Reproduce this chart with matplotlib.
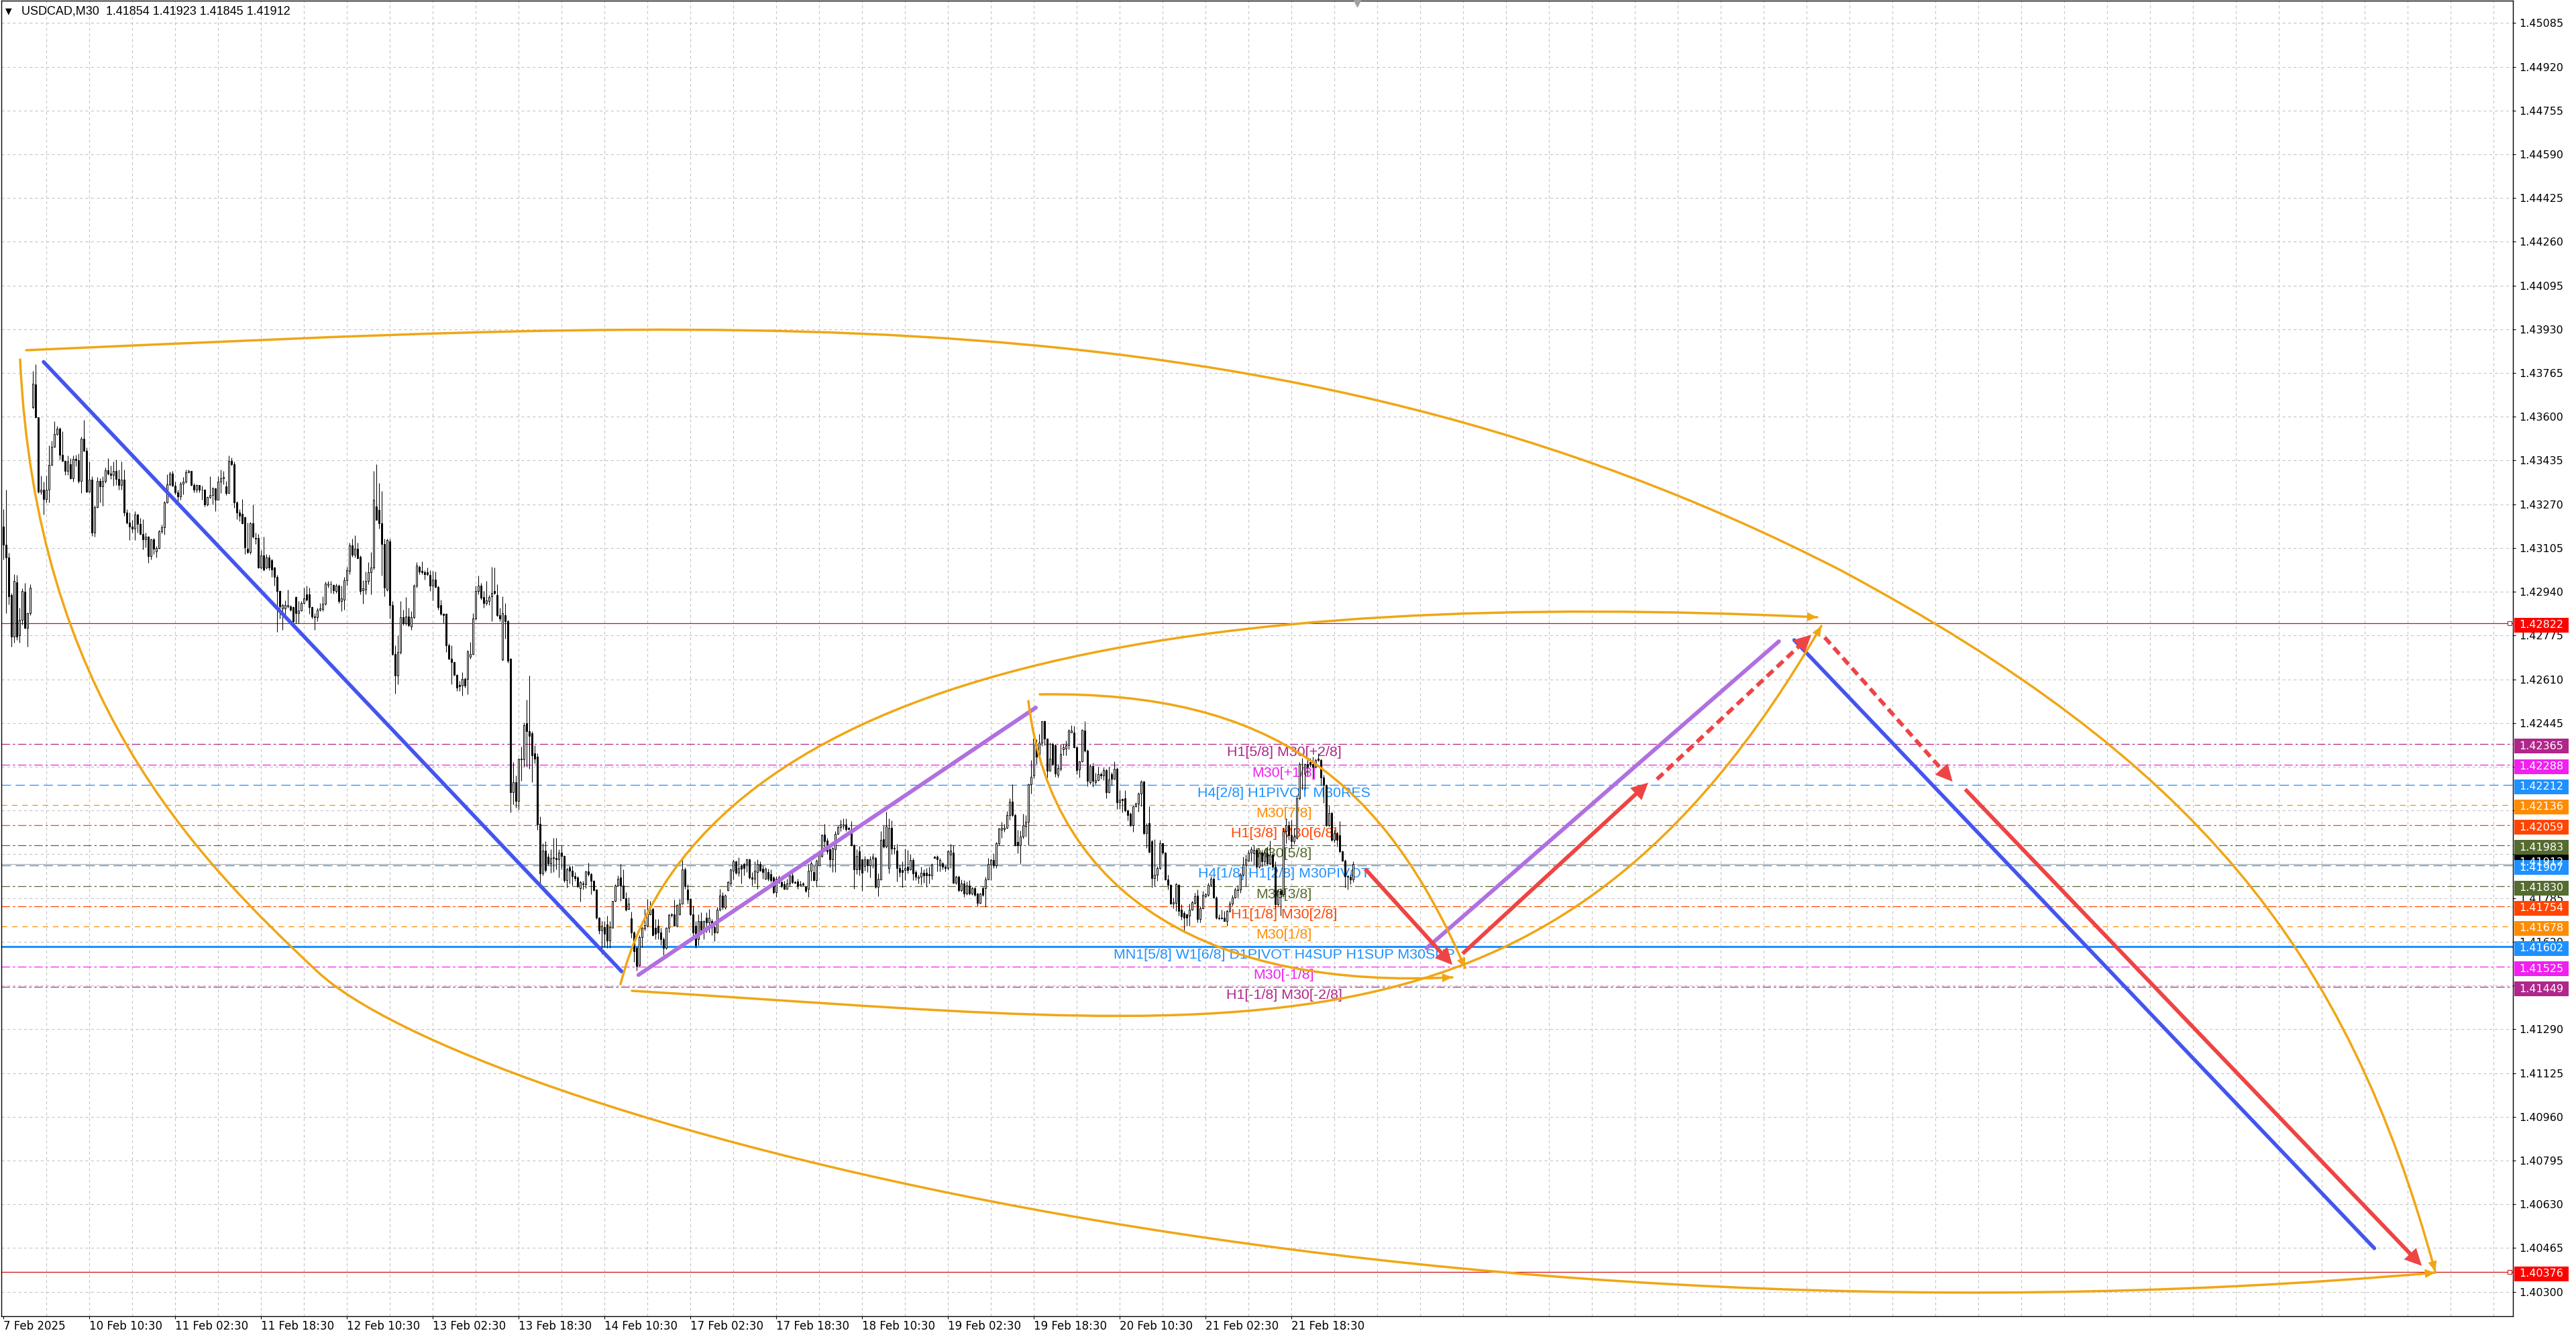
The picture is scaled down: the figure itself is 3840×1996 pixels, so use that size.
import numpy as np
import matplotlib
matplotlib.use("Agg")
import matplotlib.pyplot as plt
import matplotlib.transforms as mtrans
from matplotlib.path import Path
from matplotlib.patches import PathPatch, Rectangle

plt.rcParams['lines.scale_dashes'] = False

# USDCAD M30 candles, prices in points above 1.40000
base = 1.40000
bar_open = [
    3185, 3117, 3070, 2927, 2770, 2977, 2775, 2834, 2940, 2804,
    2859, 3637, 3721, 3599, 3317, 3326, 3290, 3324, 3419, 3486,
    3535, 3556, 3457, 3434, 3396, 3421, 3369, 3442, 3437, 3358,
    3517, 3472, 3317, 3364, 3163, 3258, 3359, 3337, 3359, 3398,
    3385, 3380, 3396, 3365, 3343, 3364, 3239, 3201, 3185, 3179,
    3231, 3197, 3159, 3138, 3148, 3075, 3138, 3092, 3106, 3168,
    3182, 3277, 3345, 3385, 3339, 3315, 3300, 3348, 3354, 3391,
    3395, 3343, 3326, 3343, 3324, 3326, 3269, 3297, 3305, 3331,
    3288, 3354, 3368, 3337, 3311, 3434, 3421, 3277, 3239, 3233,
    3221, 3102, 3089, 3198, 3144, 3144, 3032, 3077, 3032, 3070,
    3060, 3032, 2996, 2943, 2876, 2876, 2885, 2885, 2881, 2920,
    2860, 2869, 2898, 2930, 2930, 2881, 2847, 2843, 2872, 2874,
    2894, 2966, 2968, 2966, 2943, 2962, 2904, 2911, 2983, 3019,
    3115, 3080, 3102, 3073, 2945, 2949, 2981, 3013, 3032, 3262,
    3249, 3198, 3121, 2949, 3131, 2891, 2706, 2624, 2713, 2843,
    2821, 2847, 2809, 2843, 2962, 3034, 3019, 3013, 3013, 3004,
    2962, 2987, 2958, 2889, 2856, 2856, 2738, 2687, 2675, 2626,
    2588, 2585, 2611, 2611, 2694, 2706, 2838, 2943, 2962, 2920,
    2898, 2904, 2923, 2943, 2927, 2851, 2685, 2853, 2828, 2687,
    2183, 2221, 2151, 2311, 2307, 2445, 2413, 2407, 2330, 2317,
    2065, 1877, 1963, 1941, 1916, 1935, 1935, 1930, 1956, 1943,
    1852, 1901, 1888, 1868, 1863, 1823, 1841, 1837, 1885, 1874,
    1850, 1816, 1710, 1663, 1676, 1685, 1625, 1674, 1774, 1831,
    1863, 1831, 1784, 1744, 1708, 1655, 1596, 1530, 1638, 1670,
    1680, 1724, 1744, 1672, 1680, 1655, 1631, 1596, 1672, 1721,
    1723, 1680, 1724, 1765, 1894, 1816, 1782, 1723, 1680, 1630,
    1697, 1663, 1710, 1693, 1697, 1676, 1655, 1740, 1795, 1748,
    1814, 1841, 1888, 1922, 1880, 1909, 1913, 1913, 1930, 1863,
    1858, 1884, 1913, 1896, 1858, 1884, 1874, 1863, 1807, 1863,
    1846, 1837, 1820, 1841, 1871, 1846, 1848, 1831, 1839, 1826,
    1820, 1888, 1884, 1852, 1909, 1943, 2024, 2002, 1968, 1930,
    1968, 2028, 2053, 2058, 2062, 2049, 2045, 1985, 1892, 1960,
    1930, 1905, 1930, 1909, 1933, 1937, 1826, 1856, 2007, 1979,
    1899, 2050, 1971, 1965, 1899, 1891, 1890, 1903, 1894, 1928,
    1883, 1860, 1865, 1880, 1880, 1875, 1869, 1941, 1941, 1911,
    1915, 1903, 1899, 1948, 1956, 1843, 1866, 1814, 1841, 1801,
    1832, 1801, 1822, 1801, 1767, 1822, 1822, 1856, 1911, 1928,
    1907, 1992, 2043, 2045, 2050, 2098, 2149, 2098, 1996, 1984,
    2016, 2056, 2073, 2213, 2247, 2366, 2322, 2370, 2451, 2385,
    2266, 2366, 2362, 2249, 2272, 2345, 2349, 2362, 2410, 2410,
    2353, 2271, 2300, 2417, 2341, 2223, 2283, 2223, 2230, 2251,
    2247, 2268, 2183, 2251, 2234, 2273, 2145, 2158, 2162, 2115,
    2102, 2060, 2130, 2141, 2178, 2225, 2029, 2067, 2000, 1859,
    1872, 1899, 1991, 1957, 1855, 1834, 1763, 1766, 1834, 1740,
    1729, 1723, 1719, 1740, 1766, 1795, 1706, 1746, 1791, 1796,
    1834, 1857, 1787, 1712, 1712, 1712, 1698, 1736, 1763, 1787,
    1815, 1817, 1872, 1910, 1927, 1957, 1953, 1966, 1902, 1957,
    1923, 1953, 1916, 1948, 1902, 1762, 1813, 1800, 2038, 2059,
    2021, 2000, 2012, 2161, 2289, 2255, 2290, 2297, 2289, 2280,
    2310, 2306, 2239, 2212, 2059, 2106, 2004, 2029, 2021, 1961,
    1927, 1868, 1864, 1854,
]
bar_high = [
    3252, 3324, 3087, 2935, 3007, 3003, 2880, 2952, 2973, 2863,
    2969, 3772, 3797, 3599, 3379, 3354, 3379, 3493, 3510, 3582,
    3565, 3560, 3544, 3434, 3455, 3444, 3455, 3457, 3461, 3525,
    3588, 3484, 3432, 3375, 3267, 3373, 3368, 3375, 3408, 3444,
    3417, 3430, 3440, 3402, 3430, 3400, 3252, 3239, 3210, 3244,
    3235, 3218, 3214, 3163, 3151, 3140, 3142, 3113, 3172, 3193,
    3282, 3383, 3392, 3396, 3354, 3324, 3354, 3373, 3402, 3402,
    3396, 3349, 3345, 3343, 3341, 3328, 3299, 3375, 3334, 3332,
    3375, 3402, 3396, 3358, 3455, 3446, 3430, 3282, 3252, 3290,
    3223, 3200, 3204, 3268, 3162, 3159, 3096, 3149, 3083, 3080,
    3064, 3034, 3004, 2945, 2894, 2907, 2949, 2889, 2885, 2923,
    2904, 2904, 2955, 2962, 2955, 2885, 2860, 2879, 2898, 2923,
    2978, 2981, 2981, 2968, 2971, 2968, 2962, 2996, 3034, 3124,
    3140, 3153, 3124, 3077, 2983, 3017, 3051, 3089, 3396, 3421,
    3351, 3319, 3140, 3140, 3140, 2904, 2738, 2777, 2904, 2872,
    2920, 2879, 2866, 2968, 3051, 3038, 3055, 3022, 3032, 3022,
    3019, 3017, 2962, 2911, 2860, 2860, 2745, 2738, 2677, 2630,
    2604, 2636, 2617, 2719, 2751, 2860, 2962, 3000, 2974, 2943,
    2981, 2927, 3034, 3032, 2968, 2879, 2923, 2898, 2834, 2690,
    2298, 2247, 2311, 2356, 2447, 2534, 2624, 2413, 2362, 2330,
    2094, 1992, 1998, 1954, 1968, 2011, 2011, 1968, 1985, 1947,
    1901, 1909, 1909, 1884, 1867, 1850, 1850, 1888, 1918, 1879,
    1852, 1816, 1714, 1697, 1697, 1718, 1699, 1775, 1837, 1871,
    1913, 1892, 1807, 1786, 1733, 1659, 1600, 1646, 1676, 1744,
    1782, 1773, 1748, 1706, 1706, 1672, 1638, 1676, 1727, 1729,
    1778, 1761, 1782, 1935, 1901, 1837, 1784, 1757, 1697, 1723,
    1731, 1701, 1731, 1744, 1706, 1680, 1752, 1820, 1807, 1799,
    1850, 1896, 1930, 1926, 1939, 1913, 1918, 1934, 1934, 1884,
    1922, 1930, 1922, 1909, 1901, 1896, 1892, 1867, 1867, 1871,
    1850, 1850, 1858, 1875, 1879, 1850, 1858, 1850, 1846, 1833,
    1913, 1922, 1909, 1930, 1960, 2028, 2066, 2011, 1973, 1977,
    2036, 2057, 2079, 2085, 2085, 2053, 2074, 1990, 1968, 1981,
    1934, 1943, 1934, 1943, 1954, 1941, 1877, 2036, 2060, 2111,
    2086, 2077, 1984, 1990, 1911, 1924, 1971, 1967, 1951, 1937,
    1890, 1873, 1903, 1894, 1898, 1903, 1915, 1943, 1945, 1937,
    1920, 1907, 1967, 1988, 1984, 1869, 1869, 1856, 1852, 1847,
    1852, 1826, 1826, 1805, 1805, 1830, 1865, 1937, 1934, 1954,
    1996, 2051, 2073, 2064, 2113, 2162, 2213, 2102, 2043, 2039,
    2102, 2098, 2217, 2306, 2413, 2383, 2404, 2453, 2455, 2387,
    2370, 2370, 2366, 2290, 2366, 2366, 2379, 2421, 2438, 2434,
    2358, 2302, 2421, 2451, 2345, 2290, 2294, 2256, 2281, 2260,
    2277, 2272, 2281, 2260, 2300, 2277, 2192, 2162, 2192, 2119,
    2107, 2132, 2145, 2183, 2229, 2227, 2067, 2131, 2004, 2008,
    1906, 2004, 1995, 1959, 1872, 1838, 1787, 1842, 1838, 1762,
    1736, 1727, 1763, 1774, 1804, 1817, 1753, 1813, 1804, 1842,
    1868, 1862, 1791, 1723, 1740, 1736, 1740, 1774, 1796, 1825,
    1834, 1881, 1940, 1949, 1966, 1978, 1987, 1974, 1961, 1966,
    1970, 1978, 2001, 1953, 1923, 1817, 1821, 2050, 2085, 2076,
    2080, 2050, 2170, 2297, 2314, 2293, 2314, 2314, 2318, 2310,
    2331, 2310, 2250, 2214, 2136, 2110, 2042, 2034, 2076, 1965,
    1931, 1872, 1876, 1923,
]
bar_low = [
    3062, 2859, 2893, 2732, 2749, 2758, 2749, 2817, 2800, 2732,
    2851, 3632, 3596, 3311, 3307, 3231, 3277, 3277, 3417, 3484,
    3531, 3438, 3432, 3381, 3381, 3366, 3356, 3413, 3351, 3311,
    3469, 3315, 3315, 3151, 3148, 3256, 3277, 3265, 3349, 3381,
    3366, 3339, 3343, 3324, 3324, 3227, 3197, 3134, 3163, 3134,
    3163, 3155, 3100, 3108, 3049, 3062, 3083, 3070, 3103, 3160,
    3155, 3275, 3339, 3337, 3307, 3282, 3286, 3307, 3349, 3387,
    3341, 3315, 3315, 3315, 3286, 3261, 3265, 3292, 3269, 3244,
    3286, 3311, 3345, 3305, 3311, 3417, 3256, 3214, 3206, 3195,
    3083, 3085, 3083, 3144, 3121, 3029, 3026, 3019, 3026, 3022,
    2996, 2962, 2789, 2840, 2796, 2840, 2879, 2866, 2821, 2821,
    2821, 2866, 2894, 2904, 2856, 2840, 2796, 2828, 2866, 2866,
    2891, 2955, 2936, 2932, 2936, 2898, 2866, 2872, 2962, 3006,
    3073, 3070, 3064, 2930, 2894, 2930, 2968, 2930, 3025, 3211,
    3179, 3000, 2923, 2943, 2840, 2700, 2557, 2592, 2706, 2815,
    2815, 2809, 2796, 2840, 2955, 3006, 3006, 2987, 3000, 2943,
    2907, 2955, 2872, 2853, 2821, 2713, 2685, 2592, 2624, 2566,
    2566, 2547, 2579, 2553, 2687, 2703, 2834, 2930, 2911, 2879,
    2891, 2889, 2828, 2930, 2847, 2828, 2681, 2764, 2672, 2107,
    2139, 2126, 2119, 2228, 2279, 2279, 2273, 2222, 2292, 2043,
    1839, 1871, 1884, 1909, 1880, 1884, 1892, 1863, 1892, 1846,
    1824, 1841, 1833, 1850, 1824, 1772, 1816, 1823, 1867, 1799,
    1812, 1706, 1651, 1574, 1600, 1596, 1596, 1672, 1772, 1829,
    1774, 1784, 1735, 1740, 1634, 1545, 1511, 1528, 1600, 1663,
    1676, 1721, 1642, 1629, 1629, 1608, 1570, 1591, 1655, 1714,
    1680, 1676, 1721, 1761, 1820, 1765, 1718, 1629, 1596, 1608,
    1651, 1630, 1655, 1655, 1646, 1623, 1653, 1735, 1740, 1744,
    1812, 1833, 1854, 1875, 1867, 1841, 1871, 1884, 1858, 1833,
    1841, 1820, 1888, 1858, 1854, 1850, 1846, 1803, 1790, 1841,
    1824, 1818, 1818, 1829, 1841, 1841, 1820, 1829, 1831, 1807,
    1790, 1850, 1850, 1826, 1907, 1939, 1968, 1951, 1901, 1884,
    1884, 2024, 2036, 2045, 2036, 2041, 1981, 1820, 1875, 1871,
    1812, 1888, 1884, 1863, 1898, 1822, 1792, 1852, 1975, 1975,
    1877, 1950, 1950, 1847, 1865, 1824, 1852, 1877, 1890, 1852,
    1852, 1839, 1835, 1843, 1826, 1839, 1856, 1937, 1886, 1886,
    1894, 1886, 1890, 1899, 1839, 1837, 1809, 1809, 1788, 1798,
    1797, 1797, 1792, 1754, 1763, 1792, 1752, 1854, 1852, 1899,
    1899, 1984, 2013, 2035, 2047, 2081, 2094, 1982, 1954, 1915,
    2009, 2018, 1984, 2179, 2238, 2290, 2315, 2358, 2362, 2239,
    2264, 2285, 2243, 2240, 2264, 2324, 2324, 2345, 2409, 2351,
    2251, 2239, 2298, 2336, 2206, 2213, 2205, 2215, 2226, 2234,
    2230, 2162, 2181, 2209, 2232, 2120, 2120, 2107, 2111, 2077,
    2056, 2035, 2128, 2111, 2131, 2025, 1974, 1957, 1825, 1830,
    1851, 1893, 1949, 1853, 1817, 1761, 1745, 1736, 1719, 1702,
    1655, 1681, 1681, 1738, 1761, 1694, 1694, 1744, 1787, 1791,
    1830, 1783, 1706, 1702, 1706, 1698, 1681, 1732, 1757, 1783,
    1787, 1804, 1868, 1830, 1923, 1923, 1910, 1898, 1898, 1902,
    1910, 1910, 1910, 1898, 1745, 1757, 1719, 1790, 1991, 2004,
    1974, 1990, 2008, 2157, 2195, 2195, 2246, 2280, 2237, 2276,
    2301, 2208, 2144, 2055, 2055, 2000, 1995, 1978, 1957, 1923,
    1825, 1817, 1838, 1845,
]
bar_close = [
    3117, 3070, 2923, 2770, 2982, 2770, 2834, 2944, 2804, 2859,
    2956, 3725, 3599, 3317, 3326, 3290, 3326, 3419, 3486, 3535,
    3556, 3457, 3434, 3396, 3430, 3369, 3442, 3437, 3358, 3517,
    3472, 3317, 3364, 3163, 3258, 3359, 3337, 3359, 3398, 3385,
    3380, 3396, 3365, 3343, 3364, 3239, 3201, 3185, 3179, 3231,
    3197, 3159, 3138, 3148, 3075, 3138, 3103, 3106, 3168, 3182,
    3277, 3345, 3385, 3339, 3315, 3300, 3348, 3354, 3391, 3395,
    3343, 3326, 3343, 3324, 3326, 3269, 3297, 3305, 3331, 3288,
    3354, 3368, 3373, 3311, 3434, 3421, 3277, 3239, 3227, 3198,
    3108, 3089, 3198, 3147, 3140, 3032, 3077, 3025, 3070, 3032,
    3025, 2996, 2943, 2885, 2889, 2889, 2889, 2872, 2830, 2860,
    2869, 2898, 2914, 2911, 2881, 2847, 2843, 2872, 2876, 2894,
    2971, 2971, 2968, 2945, 2964, 2904, 2914, 2983, 3022, 3115,
    3080, 3102, 3068, 2943, 2953, 2981, 3013, 3032, 3287, 3211,
    3198, 3121, 2955, 3134, 2891, 2706, 2624, 2713, 2843, 2821,
    2847, 2815, 2843, 2962, 3038, 3017, 3013, 3006, 3006, 2962,
    2987, 2958, 2881, 2856, 2851, 2738, 2687, 2675, 2626, 2579,
    2583, 2611, 2585, 2715, 2706, 2840, 2943, 2962, 2917, 2898,
    2907, 2920, 2936, 2936, 2851, 2840, 2860, 2828, 2681, 2183,
    2221, 2151, 2311, 2307, 2438, 2413, 2396, 2324, 2311, 2062,
    1877, 1963, 1890, 1916, 1935, 1939, 1930, 1956, 1943, 1852,
    1892, 1888, 1868, 1860, 1829, 1846, 1837, 1885, 1874, 1850,
    1814, 1710, 1663, 1680, 1651, 1625, 1676, 1774, 1831, 1858,
    1831, 1784, 1740, 1765, 1655, 1583, 1528, 1638, 1674, 1682,
    1733, 1740, 1646, 1651, 1655, 1630, 1596, 1672, 1721, 1723,
    1680, 1758, 1765, 1892, 1829, 1778, 1723, 1655, 1608, 1697,
    1663, 1697, 1693, 1710, 1676, 1655, 1740, 1795, 1752, 1795,
    1846, 1892, 1922, 1880, 1899, 1896, 1899, 1930, 1863, 1858,
    1888, 1913, 1888, 1884, 1896, 1858, 1852, 1807, 1858, 1846,
    1829, 1820, 1841, 1871, 1846, 1843, 1829, 1837, 1835, 1812,
    1888, 1916, 1852, 1926, 1951, 2021, 1998, 1960, 1930, 1973,
    2028, 2053, 2062, 2062, 2045, 2045, 1985, 1892, 1943, 1892,
    1880, 1930, 1909, 1930, 1941, 1826, 1858, 2005, 1979, 2056,
    2050, 1971, 1975, 1899, 1882, 1882, 1899, 1890, 1928, 1877,
    1865, 1866, 1880, 1869, 1869, 1869, 1911, 1937, 1932, 1928,
    1903, 1899, 1962, 1965, 1843, 1866, 1814, 1841, 1801, 1832,
    1801, 1822, 1797, 1767, 1801, 1797, 1856, 1914, 1928, 1907,
    1992, 2047, 2050, 2050, 2098, 2149, 2098, 1984, 1984, 2016,
    2060, 2073, 2213, 2243, 2387, 2319, 2370, 2451, 2387, 2266,
    2311, 2290, 2254, 2274, 2328, 2353, 2362, 2417, 2417, 2353,
    2268, 2300, 2419, 2341, 2226, 2283, 2226, 2230, 2251, 2247,
    2268, 2183, 2232, 2234, 2273, 2145, 2155, 2154, 2115, 2098,
    2060, 2130, 2141, 2179, 2225, 2029, 2061, 1959, 1859, 1872,
    1899, 1991, 1957, 1855, 1834, 1763, 1770, 1836, 1736, 1715,
    1711, 1711, 1740, 1770, 1791, 1706, 1746, 1796, 1800, 1834,
    1857, 1787, 1711, 1709, 1709, 1698, 1736, 1763, 1787, 1817,
    1818, 1872, 1910, 1932, 1957, 1970, 1966, 1902, 1953, 1923,
    1957, 1916, 1948, 1902, 1762, 1813, 1800, 2038, 2059, 2021,
    2000, 2017, 2161, 2289, 2290, 2289, 2280, 2289, 2280, 2306,
    2306, 2239, 2212, 2059, 2106, 2004, 2029, 2004, 1961, 1927,
    1868, 1864, 1855, 1912,
]

# time axis labels (every 32 bars)
time_labels = ["7 Feb 2025", "10 Feb 10:30", "11 Feb 02:30", "11 Feb 18:30",
               "12 Feb 10:30", "13 Feb 02:30", "13 Feb 18:30", "14 Feb 10:30",
               "17 Feb 02:30", "17 Feb 18:30", "18 Feb 10:30", "19 Feb 02:30",
               "19 Feb 18:30", "20 Feb 10:30", "21 Feb 02:30", "21 Feb 18:30"]

# Murrey math levels
levels = [1.42365, 1.42288, 1.42212, 1.42136, 1.42059, 1.41983, 1.41907,
          1.41830, 1.41754, 1.41678, 1.41602, 1.41525, 1.41449]
level_names = ["H1[5/8] M30[+2/8]", "M30[+1/8]", "H4[2/8] H1PIVOT M30RES",
               "M30[7/8]", "H1[3/8] M30[6/8]", "M30[5/8]",
               "H4[1/8] H1[2/8] M30PIVOT", "M30[3/8]", "H1[1/8] M30[2/8]",
               "M30[1/8]", "MN1[5/8] W1[6/8] D1PIVOT H4SUP H1SUP M30SUP",
               "M30[-1/8]", "H1[-1/8] M30[-2/8]"]
level_colors = ["#B0268A", "#F020F0", "#1E90FF", "#FF8C00", "#FF4500", "#556B2F",
                "#1E90FF", "#556B2F", "#FF4500", "#FF8C00", "#1E90FF", "#F020F0",
                "#B0268A"]
level_styles = ["dashdot", "dashdot", "dash", "short", "dashdot", "dashdot", "dash",
                "dashdot", "dashdot", "short", "solid", "dashdot", "dashdot"]

bid_price = 1.41912
red_levels = [1.42822, 1.40376]

# drawn objects, anchors in (bar, price)
blue_lines = [((15.0, 1.43807), (230.4, 1.41508)),
              ((667.4, 1.42758), (883.6, 1.40464))]
purple_lines = [((236.7, 1.41495), (384.75, 1.42503)),
                ((530.4, 1.41596), (661.7, 1.42753))]
red_arrows = [((507.5, 1.41895), (540.0, 1.41533), "solid"),
              ((543.8, 1.41575), (613.0, 1.42220), "solid"),
              ((616.25, 1.42233), (673.8, 1.42778), "dash"),
              ((678.75, 1.42768), (726.4, 1.42224), "dash"),
              ((731.15, 1.42195), (901.25, 1.40398), "solid")]
# curved arrows as bezier control points
curves = [
    [(8.5, 1.43851), (258.5, 1.43960), (473.25, 1.44120), (684.75, 1.43021),
     (817.0, 1.42303), (873.25, 1.41597), (906.25, 1.40377)],
    [(6.25, 1.43816), (12.1, 1.42551), (71.25, 1.41941), (117.0, 1.41508),
     (171.75, 1.40991), (506.25, 1.40020), (906.25, 1.40372)],
    [(230.0, 1.41460), (261.1, 1.42685), (451.25, 1.42950), (676.0, 1.42844)],
    [(234.25, 1.41435), (459.25, 1.41298), (577.5, 1.41058), (677.5, 1.42811)],
    [(386.25, 1.42553), (473.75, 1.42566), (515.0, 1.42218), (544.75, 1.41521)],
    [(382.0, 1.42528), (390.75, 1.41774), (452.5, 1.41441), (540.0, 1.41486)],
]

W, H = 3840, 1996
fig = plt.figure(figsize=(W / 100, H / 100), dpi=100, facecolor="white")
ax = fig.add_axes([2 / W, 34 / H, 3744 / W, 1961 / H])
y_bot, y_top = 1.402079, 1.451693
ax.set_xlim(-0.75, 935.25)
ax.set_ylim(y_bot, y_top)
px_y = (y_top - y_bot) / 1961.0

n = min(len(bar_open), len(bar_high), len(bar_low), len(bar_close))
o = base + np.array(bar_open[:n]) * 1e-5
c = base + np.array(bar_close[:n]) * 1e-5
hi = np.maximum(base + np.array(bar_high[:n]) * 1e-5, np.maximum(o, c))
lo = np.minimum(base + np.array(bar_low[:n]) * 1e-5, np.minimum(o, c))
x = np.arange(n)

# grid
yticks = [1.45085 - k * 0.00165 for k in range(30)]
for yt in yticks:
    ax.axhline(yt, color="#C4C4C4", lw=0.8, dashes=(3, 3), zorder=0.5)
for xv in range(16, 936, 16):
    ax.axvline(xv, color="#C4C4C4", lw=0.8, dashes=(3, 3), zorder=0.5)

# levels
dash_map = {"dash": (10, 5), "short": (6, 5), "dashdot": (9, 3, 2.5, 3)}
for lv, name, col, st in zip(levels, level_names, level_colors, level_styles):
    if st == "solid":
        ax.axhline(lv, color=col, lw=2.2, zorder=1.5)
    else:
        ax.axhline(lv, color=col, lw=0.9, dashes=dash_map[st], zorder=1.5)
    ax.annotate(name, xy=(477.25, lv), xytext=(0, -3), textcoords="offset pixels",
                ha="center", va="top", color=col, fontsize=15.4,
                family="Liberation Sans", zorder=1.6)

ax.axhline(bid_price, color="#A8A8A8", lw=0.8, zorder=1.7)
for rl in red_levels:
    ax.axhline(rl, color="#D01010", lw=0.9, zorder=1.7)
    ax.plot(934.1, rl, marker="s", ms=4, mfc="white", mec="#D01010", mew=0.8, zorder=1.8)

# candles
ax.vlines(x, lo, hi, color="black", lw=0.75, zorder=3)
body = np.maximum(np.abs(c - o), 0.2e-5)
ax.bar(x, body, bottom=np.minimum(o, c), width=0.72,
       color=np.where(c >= o, "white", "black"), edgecolor="black", linewidth=0.7, zorder=3.1)

# straight trend lines
for p0, p1 in blue_lines:
    ax.plot([p0[0], p1[0]], [p0[1], p1[1]], color="#4455EE", lw=4.0,
            solid_capstyle="round", zorder=5)
for p0, p1 in purple_lines:
    ax.plot([p0[0], p1[0]], [p0[1], p1[1]], color="#B070E0", lw=4.3,
            solid_capstyle="round", zorder=5)


def head(tip, toward, color, scale, hl, hw):
    t = ax.transData.transform(tip)
    b = ax.transData.transform(toward)
    d = t - b
    u = d / np.hypot(*d)
    start = ax.transData.inverted().transform(t - u * 40)
    ax.annotate("", xy=tip, xytext=start, zorder=8,
                arrowprops=dict(arrowstyle=f"-|>,head_length={hl},head_width={hw}",
                                color=color, lw=0, shrinkA=0, shrinkB=0,
                                mutation_scale=scale))


red = "#EE4444"
for p0, p1, st in red_arrows:
    a = ax.transData.transform(p0)
    b = ax.transData.transform(p1)
    u = (b - a) / np.hypot(*(b - a))
    end = ax.transData.inverted().transform(b - u * 16)
    kw = dict(color=red, lw=4.2, zorder=7, solid_capstyle="butt", dash_capstyle="butt")
    if st == "dash":
        kw["dashes"] = (9.2, 5.5)
    ax.plot([p0[0], end[0]], [p0[1], end[1]], **kw)
    head(p1, p0, red, 20, 0.9, 0.45)

orange = "#F0A614"
for pts in curves:
    codes = [Path.MOVETO] + [Path.CURVE4] * (len(pts) - 1)
    ax.add_patch(PathPatch(Path(pts, codes), fill=False, edgecolor=orange, lw=2.5,
                           capstyle="round", zorder=6))
    head(pts[-1], pts[-2], orange, 20, 0.55, 0.24)

# axes styling
for sp in ax.spines.values():
    sp.set_color("black")
    sp.set_linewidth(1.0)
ax.yaxis.tick_right()
ax.set_yticks(yticks)
ax.set_yticklabels([f"{v:.5f}" for v in yticks])
ax.tick_params(axis="y", direction="out", length=3, width=0.8, pad=4,
               labelsize=11.5, colors="black")
ax.set_xticks([32 * k for k in range(len(time_labels))])
ax.set_xticklabels(time_labels)
for lbl in ax.get_xticklabels():
    lbl.set_ha("left")
ax.tick_params(axis="x", direction="out", length=3, width=0.8, pad=1.5,
               labelsize=12, colors="black")

# price boxes on the right axis
blend = mtrans.blended_transform_factory(fig.transFigure, ax.transData)


def price_box(p, color, dy_px):
    yc = p - dy_px * px_y
    ax.add_patch(Rectangle((3748 / W, yc - 11 * px_y), 81 / W, 22 * px_y, transform=blend,
                           facecolor=color, edgecolor="none", clip_on=False, zorder=10))
    ax.text(3755 / W, yc, f"{p:.5f}", transform=blend, color="white", fontsize=11.5,
            va="center", ha="left", clip_on=False, zorder=11)


price_box(bid_price, "black", -3)
for lv, col in zip(levels, level_colors):
    price_box(lv, col, 3)
for rl in red_levels:
    price_box(rl, "#FF0000", 3)

# chart shift marker and title
ax.plot(504.5, y_top - 4 * px_y, marker="v", ms=7, color="#A0A0A0", clip_on=False, zorder=9)
fig.text(8 / W, 1 - 17 / H, "\u25bc", fontsize=9, va="center", ha="left", color="black")
fig.text(32 / W, 1 - 17 / H, "USDCAD,M30  1.41854 1.41923 1.41845 1.41912",
         fontsize=13, family="Liberation Sans", va="center", ha="left", color="black")

fig.savefig("out.png", dpi=100, facecolor="white")
